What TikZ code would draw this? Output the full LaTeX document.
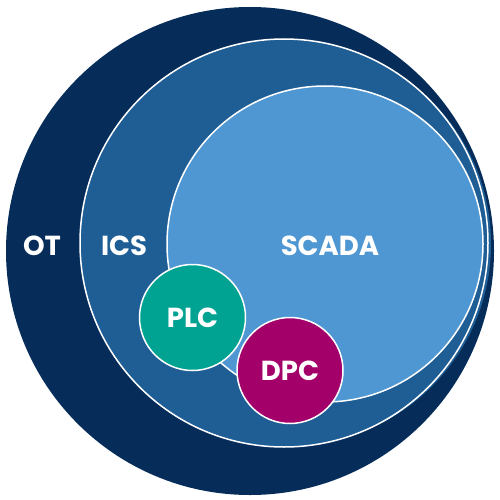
\documentclass[tikz,border=0pt]{standalone}
\usepackage{fontspec}
\setmainfont{Poppins}
\definecolor{otblue}{HTML}{062D5A}
\definecolor{icsblue}{HTML}{1F5E95}
\definecolor{scadablue}{HTML}{4F97D2}
\definecolor{plcteal}{HTML}{00A391}
\definecolor{dpcmag}{HTML}{A3006A}
\tikzset{
  disc/.style={circle, inner sep=0pt, outer sep=0pt},
  ring/.style={disc, draw=white, line width=1.5pt},
  lbl/.style={text=white, font=\fontsize{27.5pt}{29pt}\selectfont\bfseries, inner sep=0pt},
}
\begin{document}
\begin{tikzpicture}[x=1pt,y=-1pt]
\useasboundingbox (0,0) rectangle (500,500);
\node[disc, fill=otblue, minimum size=488pt] (ot) at (250,251) {};
\node[disc, fill=icsblue, minimum size=402pt] (icsback) at (290,244) {};
\node[ring, fill=icsblue, minimum size=408pt] (ics) at (284,243) {};
\node[ring, fill=scadablue, minimum size=316pt] (scada) at (325,244) {};
\node[ring, fill=plcteal, minimum size=106pt, lbl] (plc) at (192.5,317.5) {PLC};
\node[ring, fill=dpcmag, minimum size=106pt, lbl] (dpc) at (290,370.5) {DPC};
\node[lbl] (otl) at (42,246) {OT};
\node[lbl] (icsl) at (124,246) {ICS};
\node[lbl] (scadal) at (330,246) {SCADA};
\end{tikzpicture}
\end{document}
